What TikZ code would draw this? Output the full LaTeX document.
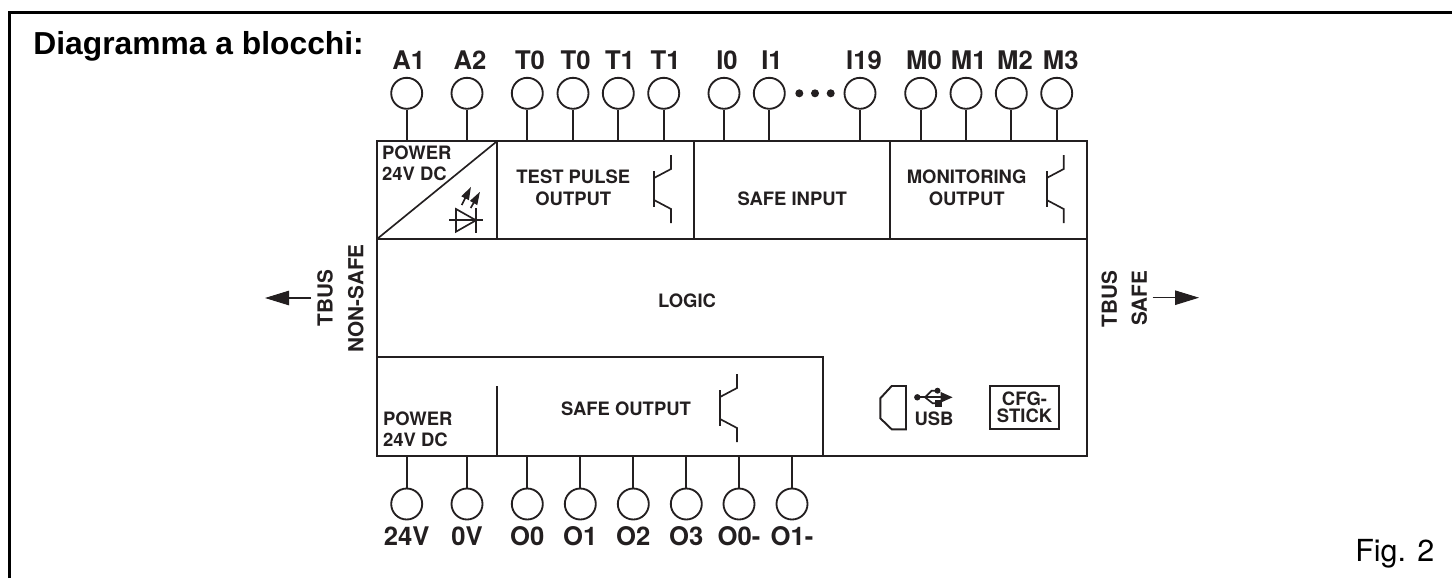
\documentclass[tikz,border=0pt]{standalone}
\usepackage{fontspec}
\setmainfont{TeX Gyre Heros}
\newfontfamily\arialfont{Liberation Sans}
\usetikzlibrary{arrows.meta,positioning,calc}
\definecolor{ink}{HTML}{231F20}
\tikzset{
  cell/.style={draw=ink, line width=1.2pt, inner sep=0pt, outer sep=0pt, anchor=north west},
  pin/.style={circle, draw=ink, line width=1.05pt, inner sep=0pt, minimum size=0.62cm},
  stem/.style={draw=ink, line width=1.3pt},
  pinlab/.style={font=\fontsize{14.6}{15}\selectfont\bfseries, text=ink, inner sep=0pt, anchor=base},
  lab/.style={font=\fontsize{10.5}{11}\selectfont\bfseries, text=ink, inner sep=0pt, anchor=base},
  sidelab/.style={font=\fontsize{11.8}{12}\selectfont\bfseries, text=ink, inner sep=0pt, rotate=90},
  arr/.style={-{Triangle[length=0.48cm,width=0.29cm]}, draw=ink, line width=0.6pt},
  dot/.style={circle, fill=ink, inner sep=0pt, minimum size=0.16cm},
  sym/.style={draw=ink, line width=0.95pt},
  pics/transistor/.style={code={
    \draw[sym, line width=1.2pt] (0,-18) -- (0,18);
    \draw[sym] (0,-11) -- (17,-20) -- (17,-34);
    \draw[sym] (0,11) -- (17,20) -- (17,34);
  }},
}
\begin{document}
\begin{tikzpicture}[x=0.02cm,y=-0.02cm]
    \useasboundingbox (0,0) rectangle (1452,578);
    % frame
    \draw[line width=1.7pt, black] (9.5,578) -- (9.5,12.5) -- (1452,12.5);
    \node[font=\arialfont\fontsize{18.1}{19}\selectfont\bfseries, inner sep=0pt, anchor=base west] (title) at (33,54.3) {Diagramma a blocchi:};
    \node[font=\fontsize{17.3}{18}\selectfont, inner sep=0pt, anchor=base west] (figlab) at (1355,561) {Fig. 2};

    % cells
    \node[cell, minimum width=2.412cm, minimum height=1.966cm] (powerin) at (376.7,141) {};
    \node[cell, minimum width=3.928cm, minimum height=1.966cm] (testout) at (497.3,141) {};
    \node[cell, minimum width=3.926cm, minimum height=1.966cm] (safein) at (693.7,141) {};
    \node[cell, minimum width=3.946cm, minimum height=1.966cm] (monout) at (890,141) {};
    \node[cell, minimum width=14.212cm, minimum height=4.328cm] (logic) at (376.7,239.3) {};
    \node[cell, minimum width=8.92cm, minimum height=1.968cm] (safeout) at (376.7,357.3) {};
    \draw[sym] (powerin.south west) -- (powerin.north east);
    \coordinate (divtop) at (497,386);
    \draw[draw=ink, line width=0.6pt] (divtop) -- (divtop |- safeout.south);

    % pins
    \foreach \i/\x/\lx/\t in {1/406.7/408.7/A1, 2/467/470/A2, 3/527.3/530/T0, 4/573/575.7/T0,
                              5/618.3/620/T1, 6/663.7/665.7/T1, 7/724/727/I0, 8/769.3/772/I1,
                              9/860/864/I19, 10/920.7/924/M0, 11/966/968.7/M1, 12/1011.3/1015/M2,
                              13/1056.7/1060.7/M3} {
      \node[pin] (top\i) at (\x,93.3) {};
      \node[pinlab] (toplab\i) at (\lx,69.3) {\t};
      \draw[stem] (top\i) -- (top\i |- powerin.north);
    }
    \foreach \i/\x/\t in {1/406.7/24V, 2/467/0V, 3/527.3/O0, 4/580.3/O1,
                          5/633.3/O2, 6/686.3/O3, 7/739/O0-, 8/792/O1-} {
      \node[pin] (bot\i) at (\x,504) {};
      \node[pinlab] (botlab\i) at (\x,545) {\t};
      \draw[stem] (bot\i) -- (bot\i |- safeout.south);
    }
    \node[dot] (dot1) at (799.3,93.3) {};
    \node[dot] (dot2) at (815,93.3) {};
    \node[dot] (dot3) at (830.7,93.3) {};

    % labels
    \node[lab, anchor=base west] (pwr1) at (381.7,159.3) {POWER};
    \node[lab, anchor=base west] (pwr2) at (381.7,180) {24V DC};
    \node[lab] (test1) at (573.3,183.3) {TEST PULSE};
    \node[lab] (test2) at (573.3,205) {OUTPUT};
    \node[lab] (inlab) at (792.3,205) {SAFE INPUT};
    \node[lab] (mon1) at (966.7,183.3) {MONITORING};
    \node[lab] (mon2) at (966.7,205) {OUTPUT};
    \node[lab] (logiclab) at (687,307.5) {LOGIC};
    \node[lab] (outlab) at (626,415) {SAFE OUTPUT};
    \node[lab, anchor=base west] (pwr3) at (382.7,425) {POWER};
    \node[lab, anchor=base west] (pwr4) at (382.7,446.7) {24V DC};

    % transistors
    \pic at (654,189) {transistor};
    \pic at (1046.7,189) {transistor};
    \pic at (720,408) {transistor};

    % led
    \draw[sym] (456,209) -- (476,220.3) -- (456,231.7) -- cycle;
    \draw[sym] (476,208) -- (476,232.7);
    \draw[sym] (449.3,220.3) -- (483.3,220.3);
    \draw[sym, -{Triangle[length=0.26cm,width=0.16cm]}] (461.7,205) -- (471,186.7);
    \draw[sym, -{Triangle[length=0.26cm,width=0.16cm]}] (470.7,208) -- (480,191.7);

    % usb
    \draw[sym, line width=1.1pt] (906,386) -- (891.7,386) -- (880.3,398.3) -- (880.3,418.3) -- (891.7,429.3) -- (906,429.3) -- cycle;
    \node[lab] (usblab) at (934,425) {USB};
    \fill[ink] (917.3,397.3) circle (3.2);
    \draw[sym, line width=1.2pt, -{Triangle[length=0.24cm,width=0.2cm]}] (917.3,397.3) -- (952.7,397.3);
    \draw[sym] (925,397.3) -- (931.7,390.7) -- (936,390.7);
    \fill[ink] (937.5,390.7) circle (3);
    \draw[sym] (925,397.3) -- (932.7,403.3) -- (936,403.3);
    \fill[ink] (935,400) rectangle (941.5,406.5);

    % cfg stick
    \node[draw=ink, line width=1.2pt, inner sep=0pt, minimum width=1.392cm, minimum height=0.866cm] (cfgbox) at (1024.5,407.7) {};
    \node[lab] (cfg1) at (1024.5,405) {CFG-};
    \node[lab] (cfg2) at (1024.5,422.7) {STICK};

    % tbus
    \node[sidelab] (tbusl) at (325,298.3) {TBUS};
    \node[sidelab] (nonsafe) at (355.7,298.3) {NON-SAFE};
    \node[sidelab] (tbusr) at (1109.3,299.3) {TBUS};
    \node[sidelab] (safer) at (1139.3,298.3) {SAFE};
    \coordinate (ltail) at (311,298);
    \coordinate (ltip) at (265,298);
    \coordinate (rtail) at (1152.7,297.7);
    \coordinate (rtip) at (1199,297.7);
    \draw[arr] (ltail) -- (ltip);
    \draw[arr] (rtail) -- (rtip);
  \end{tikzpicture}
\end{document}
